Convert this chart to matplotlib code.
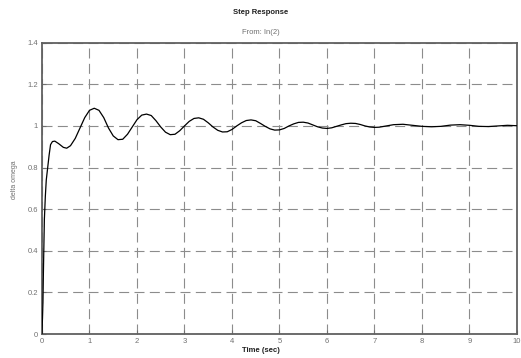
import matplotlib
matplotlib.use("Agg")
import matplotlib.pyplot as plt

# Step response samples: time (sec) and delta omega
t = [0.0, 0.02, 0.03, 0.05, 0.07, 0.09, 0.12, 0.15, 0.18, 0.22, 0.27, 0.35,
     0.45, 0.52, 0.6, 0.7, 0.8, 0.9, 1.0, 1.1, 1.2, 1.3, 1.4, 1.5, 1.6, 1.7,
     1.8, 1.9, 2.0, 2.1, 2.2, 2.3, 2.4, 2.5, 2.6, 2.7, 2.8, 2.9, 3.0, 3.1,
     3.2, 3.3, 3.4, 3.5, 3.6, 3.7, 3.8, 3.9, 4.0, 4.1, 4.2, 4.3, 4.4, 4.5,
     4.6, 4.7, 4.8, 4.9, 5.0, 5.1, 5.2, 5.3, 5.4, 5.5, 5.6, 5.7, 5.8, 5.9,
     6.0, 6.1, 6.2, 6.3, 6.4, 6.5, 6.6, 6.7, 6.8, 6.9, 7.0, 7.1, 7.2, 7.4,
     7.6, 7.8, 8.0, 8.2, 8.4, 8.6, 8.8, 9.0, 9.2, 9.4, 9.6, 9.8, 10.0]
delta_omega = [0.0, 0.15, 0.3, 0.55, 0.66, 0.74, 0.80, 0.86, 0.91, 0.925,
               0.927, 0.915, 0.897, 0.893, 0.905, 0.94, 0.99, 1.04, 1.075,
               1.085, 1.075, 1.04, 0.99, 0.952, 0.934, 0.936, 0.96, 0.995,
               1.03, 1.052, 1.057, 1.05, 1.025, 0.995, 0.97, 0.958, 0.96,
               0.977, 1.0, 1.022, 1.036, 1.039, 1.032, 1.015, 0.995, 0.979,
               0.971, 0.972, 0.983, 1.0, 1.015, 1.026, 1.029, 1.025, 1.012,
               0.998, 0.986, 0.98, 0.981, 0.988, 1.0, 1.01, 1.017, 1.018,
               1.014, 1.005, 0.996, 0.99, 0.988, 0.991, 0.998, 1.005, 1.011,
               1.013, 1.012, 1.007, 1.0, 0.995, 0.993, 0.994, 0.998, 1.006,
               1.008, 1.003, 0.998, 0.996, 0.998, 1.004, 1.006, 1.003, 0.998,
               0.997, 1.0, 1.003, 1.001]

x_ticks = [0, 1, 2, 3, 4, 5, 6, 7, 8, 9, 10]
y_ticks = [0, 0.2, 0.4, 0.6, 0.8, 1.0, 1.2, 1.4]
y_tick_labels = ["0", "0.2", "0.4", "0.6", "0.8", "1", "1.2", "1.4"]

plt.rcParams["font.family"] = ["Liberation Sans", "DejaVu Sans"]

fig = plt.figure(figsize=(5.21, 3.58), dpi=100)
ax = fig.add_axes([0.0806, 0.067, 0.9117, 0.8137])

ax.plot(t, delta_omega, color="black", linewidth=0.9, zorder=3)

ax.set_xlim(0, 10)
ax.set_ylim(0, 1.4)
ax.set_xticks(x_ticks)
ax.set_xticklabels([str(v) for v in x_ticks])
ax.set_yticks(y_ticks)
ax.set_yticklabels(y_tick_labels)

ax.grid(True, color="#8c8c8c", linewidth=0.8, linestyle=(0, (9, 4.8)))
ax.tick_params(direction="in", length=3, width=0.8, colors="#707070",
               labelsize=5.5, labelcolor="#707070", pad=3)
for s in ax.spines.values():
    s.set_color("#606060")
    s.set_linewidth(1.3)

fig.text(0.5, 0.964, "Step Response", ha="center", va="center",
         fontsize=5.5, fontweight="bold", color="#202020")
fig.text(0.5, 0.908, "From: In(2)", ha="center", va="center",
         fontsize=5.5, color="#707070")
fig.text(0.5, 0.022, "Time (sec)", ha="center", va="center",
         fontsize=5.5, fontweight="bold", color="#202020")
fig.text(0.027, 0.497, "delta omega", ha="center", va="center",
         rotation=90, fontsize=5, color="#707070")

fig.savefig("out.png", dpi=100)
